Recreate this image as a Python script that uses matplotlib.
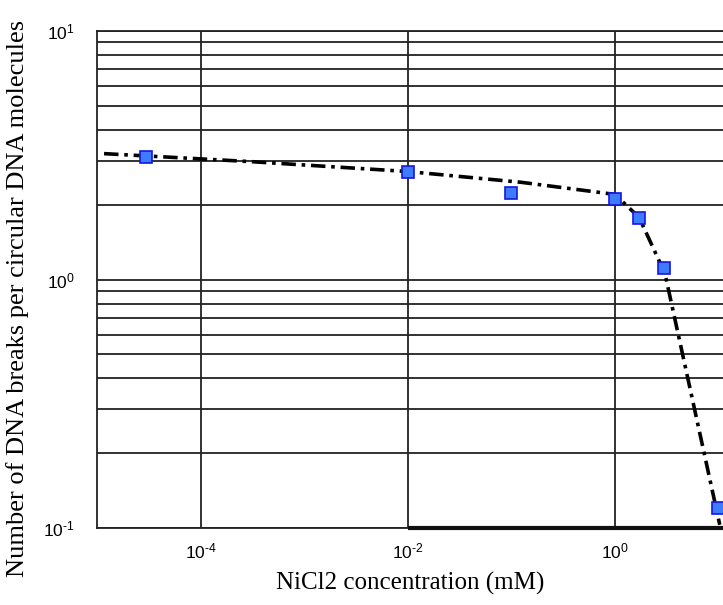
import numpy as np
import matplotlib
matplotlib.use("Agg")
import matplotlib.pyplot as plt
from matplotlib.ticker import LogLocator, NullFormatter, NullLocator, FuncFormatter

# measured points (NiCl2 in mM, breaks per molecule)
conc = [3e-5, 0.01, 0.1, 1.0, 1.7, 3.0, 10.0]
breaks = [3.1, 2.7, 2.23, 2.11, 1.77, 1.11, 0.12]

# dash-dot fit curve
fit_conc = [1.17e-5, 3.1e-4, 0.01, 0.126, 1.0, 1.71, 3.04, 10.3]
fit_breaks = [3.21, 2.98, 2.72, 2.46, 2.20, 1.78, 1.06, 0.103]

x_ticks = [1e-4, 1e-2, 1e0]
x_label = "NiCl2 concentration (mM)"
y_label = "Number of DNA breaks per circular DNA molecules"

plt.rcParams["mathtext.fontset"] = "custom"
plt.rcParams["mathtext.rm"] = "Liberation Sans"
plt.rcParams["mathtext.it"] = "Liberation Sans"
plt.rcParams["font.family"] = "Liberation Sans"


def pow_label(v, pos):
    e = int(round(np.log10(v)))
    return r"$\mathrm{10}^{\mathrm{%s}}$" % str(e).replace("-", "\u2010")


fig = plt.figure(figsize=(7.23, 6.05), dpi=100)
ax = fig.add_axes([97 / 723, 1 - 528 / 605, 626 / 723, 497 / 605])

ax.set_xscale("log")
ax.set_yscale("log")
ax.set_xlim(1e-5, 10 ** 1.044)
ax.set_ylim(0.1, 10)

ax.set_xticks(x_ticks)
ax.xaxis.set_minor_locator(NullLocator())
ax.yaxis.set_major_locator(LogLocator(base=10))
ax.yaxis.set_minor_locator(LogLocator(base=10, subs=np.arange(2, 10)))
ax.yaxis.set_minor_formatter(NullFormatter())
ax.xaxis.set_major_formatter(FuncFormatter(pow_label))
ax.yaxis.set_major_formatter(FuncFormatter(pow_label))

ax.grid(True, which="major", axis="both", color="#222222", lw=1.3)
ax.grid(True, which="minor", axis="y", color="#222222", lw=1.3)
ax.set_axisbelow(True)

ax.tick_params(which="both", length=0, labelsize=12.5)
ax.tick_params(axis="y", pad=16)
ax.tick_params(axis="x", pad=10)

for s in ["left", "top", "bottom"]:
    ax.spines[s].set_color("#222222")
    ax.spines[s].set_linewidth(1.3)
ax.spines["right"].set_visible(False)
# heavier bottom rule to the right of 10^-2
ax.hlines(0.1, 1e-2, ax.get_xlim()[1], color="#111111", lw=3, clip_on=False, zorder=3)

ax.plot(fit_conc, fit_breaks, color="black", lw=2.6, linestyle=(0, (4, 1.6, 1, 1.6)), zorder=4)
ax.plot(conc, breaks, linestyle="none", marker="s", markersize=9,
        markerfacecolor="#3d7bff", markeredgecolor="#1515e6", markeredgewidth=1.2, zorder=5)

ax.set_xlabel(x_label, family="Liberation Serif", fontsize=18, labelpad=7)
ax.set_ylabel(y_label, family="Liberation Serif", fontsize=19)
ax.yaxis.set_label_coords(-0.108, 0.461)

fig.savefig("out.png", dpi=100)
